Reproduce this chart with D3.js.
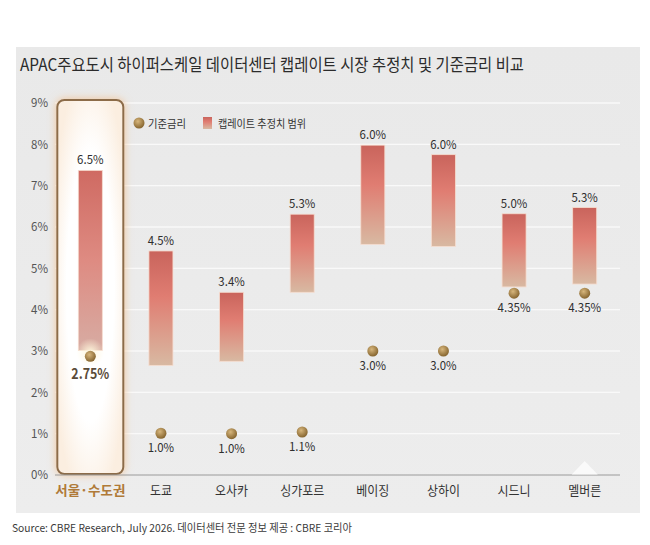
<!DOCTYPE html>
<html><head><meta charset="utf-8">
<script src="https://cdn.jsdelivr.net/npm/d3@7"></script>
<style>
html,body{margin:0;padding:0;background:#fff;}
text{font-family:"Noto Sans CJK KR","Noto Sans",sans-serif;}
</style></head>
<body>
<svg id="c" width="650" height="545"></svg>
<script>
// ---- data ----
const cities = ["서울·수도권","도쿄","오사카","싱가포르","베이징","상하이","시드니","멜버른"];
const capLow  = [3.01, 2.65, 2.75, 4.42, 5.58, 5.53, 4.55, 4.62];
const capHigh = [7.37, 5.42, 4.42, 6.31, 7.98, 7.75, 6.32, 6.47];
const capLabels = ["6.5%","4.5%","3.4%","5.3%","6.0%","6.0%","5.0%","5.3%"];
const baseRate = [2.87, 1.01, 1.0, 1.04, 3.0, 3.0, 4.4, 4.4];
const baseLabels = ["2.75%","1.0%","1.0%","1.1%","3.0%","3.0%","4.35%","4.35%"];
const yTicks = [0,1,2,3,4,5,6,7,8,9];
const titleText = "APAC주요도시 하이퍼스케일 데이터센터 캡레이트 시장 추정치 및 기준금리 비교";
const sourceText = "Source: CBRE Research, July 2026. 데이터센터 전문 정보 제공 : CBRE 코리아";
const legendItems = ["기준금리","캡레이트 추정치 범위"];

const svg = d3.select("#c");
const defs = svg.append("defs");

// gradients
const bg = defs.append("linearGradient").attr("id","bar").attr("x1",0).attr("y1",0).attr("x2",0).attr("y2",1);
bg.append("stop").attr("offset","0%").attr("stop-color","#c9645c");
bg.append("stop").attr("offset","40%").attr("stop-color","#e07d72");
bg.append("stop").attr("offset","100%").attr("stop-color","#d8b9a2");
const bg2 = defs.append("linearGradient").attr("id","bar0").attr("x1",0).attr("y1",0).attr("x2",0).attr("y2",1);
bg2.append("stop").attr("offset","0%").attr("stop-color","#cf6a62");
bg2.append("stop").attr("offset","50%").attr("stop-color","#de8b82");
bg2.append("stop").attr("offset","100%").attr("stop-color","#d7aca3");
const dg = defs.append("radialGradient").attr("id","dot").attr("cx","40%").attr("cy","35%").attr("r","65%");
dg.append("stop").attr("offset","0%").attr("stop-color","#d7b67c");
dg.append("stop").attr("offset","100%").attr("stop-color","#86652f");
const pg = defs.append("linearGradient").attr("id","panel").attr("x1",0).attr("y1",0).attr("x2",0).attr("y2",1);
pg.append("stop").attr("offset","0%").attr("stop-color","#e9e9e9");
pg.append("stop").attr("offset","100%").attr("stop-color","#ededed");
const glow = defs.append("filter").attr("id","glow").attr("x","-30%").attr("y","-10%").attr("width","160%").attr("height","120%");
glow.append("feGaussianBlur").attr("in","SourceAlpha").attr("stdDeviation",4).attr("result","b");
glow.append("feFlood").attr("flood-color","#f2c08e").attr("flood-opacity",0.9);
glow.append("feComposite").attr("in2","b").attr("operator","in").attr("result","g");
const fm = glow.append("feMerge");
fm.append("feMergeNode").attr("in","g");
fm.append("feMergeNode").attr("in","SourceGraphic");
const hg = defs.append("radialGradient").attr("id","hl").attr("cx","50%").attr("cy","50%").attr("r","60%");
hg.append("stop").attr("offset","60%").attr("stop-color","#ffffff");
hg.append("stop").attr("offset","100%").attr("stop-color","#fbeee0");
const dglow = defs.append("radialGradient").attr("id","dglow");
dglow.append("stop").attr("offset","0%").attr("stop-color","#fff7dc").attr("stop-opacity",1);
dglow.append("stop").attr("offset","100%").attr("stop-color","#fff7dc").attr("stop-opacity",0);

// panel
svg.append("rect").attr("x",16).attr("y",47).attr("width",624).attr("height",466).attr("fill","url(#panel)");

// title
svg.append("text").attr("x",20).attr("y",71).attr("font-size",17).attr("fill","#2b2b2b")
  .attr("textLength",504).attr("lengthAdjust","spacingAndGlyphs").text(titleText);

// scales
const x = d3.scaleBand().domain(cities).range([55,620]).paddingInner(0.66).paddingOuter(0.33);
const y = d3.scaleLinear().domain([0,9]).range([475,103]);

// gridlines
svg.append("g").selectAll("line").data(yTicks.filter(d=>d>0)).join("line")
  .attr("x1",55).attr("x2",620).attr("y1",d=>y(d)).attr("y2",d=>y(d))
  .attr("stroke","#f9f9f9").attr("stroke-width",1.3);

// y axis (labels only)
const yAxis = d3.axisLeft(y).tickValues(yTicks).tickFormat(d=>d+"%").tickSize(0).tickPadding(0);
const yg = svg.append("g").attr("transform","translate(48,0)").call(yAxis);
yg.select(".domain").remove();
yg.selectAll("text").attr("font-size",12).attr("fill","#555")
  .style("font-family","'Noto Sans CJK KR',sans-serif").attr("textLength",17).attr("lengthAdjust","spacingAndGlyphs");

// highlight box for Seoul
const hx = x(cities[0]) + x.bandwidth()/2;
svg.append("rect").attr("x",hx-33).attr("y",y(9)-3).attr("width",66).attr("height",y(0)-y(9)+2)
  .attr("rx",7).attr("fill","url(#hl)").attr("stroke","#8c6c4a").attr("stroke-width",2).attr("filter","url(#glow)");

// baseline axis
const xAxis = d3.axisBottom(x).tickSize(0).tickPadding(11);
const xg = svg.append("g").attr("transform",`translate(0,${y(0)})`).call(xAxis);
xg.select(".domain").attr("stroke","#9a9a9a").attr("stroke-width",1).attr("d","M55,0H620");
xg.selectAll("text").attr("font-size",13).attr("fill",(d,i)=>i===0?"#b07a38":"#333")
  .attr("font-weight",(d,i)=>i===0?"bold":"normal")
  .style("font-family","'Noto Sans CJK KR',sans-serif")
  .attr("textLength",(d,i)=>i===0?70:null).attr("lengthAdjust","spacingAndGlyphs");
xg.selectAll("text").each(function(d,i){ if(i!==0){ const n=d.length; d3.select(this).attr("textLength",n*11).attr("lengthAdjust","spacingAndGlyphs"); }});

// decorative triangle at 멜버른
const mx = x(cities[7]) + x.bandwidth()/2;
svg.append("path").attr("d",`M${mx-13},${y(0)-0.5}L${mx},${y(0)-14}L${mx+13},${y(0)-0.5}Z`).attr("fill","#fafafa");

// bars
svg.append("g").selectAll("rect").data(cities).join("rect")
  .attr("x",d=>x(d)).attr("width",x.bandwidth())
  .attr("y",(d,i)=>y(capHigh[i])).attr("height",(d,i)=>y(capLow[i])-y(capHigh[i]))
  .attr("fill",(d,i)=>i===0?"url(#bar0)":"url(#bar)")
  .attr("stroke","#f6dccf").attr("stroke-width",0.8);

// cap labels
svg.append("g").selectAll("text").data(cities).join("text")
  .attr("x",d=>x(d)+x.bandwidth()/2).attr("y",(d,i)=>y(capHigh[i])-6)
  .attr("text-anchor","middle").attr("font-size",12).attr("fill","#2e2e2e")
  .attr("textLength",(d,i)=>capLabels[i].length*6.6).attr("lengthAdjust","spacingAndGlyphs")
  .text((d,i)=>capLabels[i]);

// dot glow for Seoul
svg.append("circle").attr("cx",hx).attr("cy",y(baseRate[0])-4).attr("r",14).attr("fill","url(#dglow)");

// dots
svg.append("g").selectAll("circle").data(cities).join("circle")
  .attr("cx",d=>x(d)+x.bandwidth()/2).attr("cy",(d,i)=>y(baseRate[i]))
  .attr("r",5.5).attr("fill","url(#dot)");

// dot labels
svg.append("g").selectAll("text").data(cities).join("text")
  .attr("x",d=>x(d)+x.bandwidth()/2).attr("y",(d,i)=>y(baseRate[i])+(i===0?23:19))
  .attr("text-anchor","middle")
  .attr("font-size",(d,i)=>i===0?15:12)
  .attr("font-weight",(d,i)=>i===0?"bold":"normal")
  .attr("fill",(d,i)=>i===0?"#5a4b38":"#2e2e2e")
  .attr("textLength",(d,i)=>i===0?38:baseLabels[i].length*6.6).attr("lengthAdjust","spacingAndGlyphs")
  .text((d,i)=>baseLabels[i]);

// legend
const lg = svg.append("g");
lg.append("circle").attr("cx",139).attr("cy",123).attr("r",5.5).attr("fill","url(#dot)");
lg.append("text").attr("x",148).attr("y",127.5).attr("font-size",11).attr("fill","#333")
  .attr("textLength",38).attr("lengthAdjust","spacingAndGlyphs").text(legendItems[0]);
lg.append("rect").attr("x",203).attr("y",117).attr("width",9).attr("height",12).attr("fill","url(#bar)");
lg.append("text").attr("x",218).attr("y",127.5).attr("font-size",11).attr("fill","#333")
  .attr("textLength",88).attr("lengthAdjust","spacingAndGlyphs").text(legendItems[1]);

// source
svg.append("text").attr("x",12).attr("y",532).attr("font-size",11).attr("fill","#3a3a3a")
  .attr("textLength",340).attr("lengthAdjust","spacingAndGlyphs").text(sourceText);
</script>
</body></html>
